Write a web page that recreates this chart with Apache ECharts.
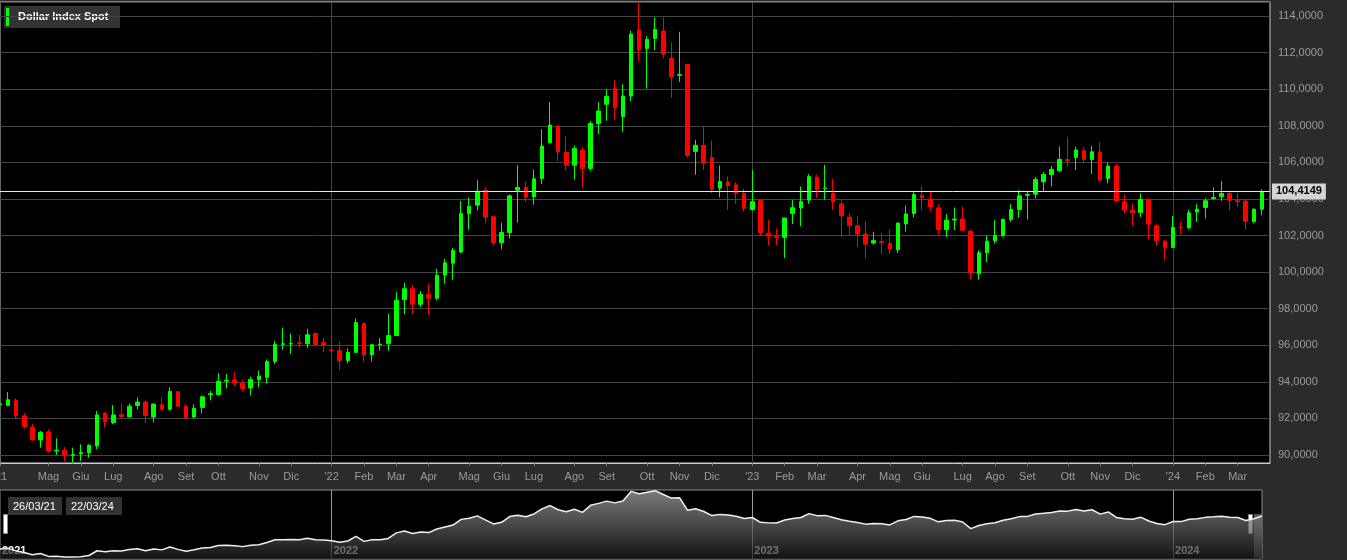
<!DOCTYPE html>
<html>
<head>
<meta charset="utf-8">
<script src="https://cdn.jsdelivr.net/npm/echarts@6/dist/echarts.min.js"></script>
<style>
  html, body { margin: 0; padding: 0; background: #2b2b2b; }
  #chart { width: 1347px; height: 560px; }
</style>
</head>
<body>
<div id="chart"></div>
<script>
// weekly candles, first week 26/03/21, last week 22/03/24
const startDate = new Date(2021, 2, 26);
const monthNames = ['Gen', 'Feb', 'Mar', 'Apr', 'Mag', 'Giu', 'Lug', 'Ago', 'Set', 'Ott', 'Nov', 'Dic'];

const opens = [92.75, 92.71, 92.98, 92.14, 91.52, 90.82, 91.26, 90.22, 90.25, 89.98, 90.07, 90.12, 90.49, 92.29, 91.77, 92.20, 92.08, 92.71, 92.89, 92.08,
  92.74, 92.50, 93.46, 92.65, 92.08, 92.60, 93.30, 93.30, 94.04, 94.10, 93.92, 93.66, 94.12, 94.25, 95.11, 96.05, 96.07, 96.13, 96.08, 96.64,
  96.15, 95.74, 95.70, 95.16, 95.61, 97.18, 95.48, 96.03, 96.10, 96.53, 98.50, 99.09, 98.24, 98.78, 98.57, 99.84, 100.49, 101.10, 103.20, 103.66,
  104.48, 103.03, 101.60, 102.16, 104.48, 104.64, 104.11, 105.12, 107.07, 107.99, 106.54, 105.85, 106.67, 105.67, 108.13, 109.18, 110.05, 108.50, 109.63, 113.25,
  112.23, 112.78, 113.18, 111.68, 110.76, 111.35, 106.60, 106.93, 106.27, 104.59, 104.93, 104.77, 104.31, 103.42, 103.91, 102.13, 101.95, 101.90, 103.21, 103.51,
  103.94, 105.19, 104.57, 104.31, 103.73, 103.00, 102.54, 102.08, 101.59, 101.67, 101.57, 101.22, 102.63, 103.20, 104.20, 103.99, 103.51, 102.33, 102.85, 102.90,
  102.23, 99.91, 101.06, 101.71, 102.01, 102.88, 103.42, 104.20, 104.26, 104.94, 105.34, 105.54, 106.15, 106.27, 106.64, 106.16, 106.57, 105.12, 105.80, 103.84,
  103.38, 103.26, 103.99, 102.53, 101.69, 101.34, 102.45, 102.43, 103.29, 103.53, 104.02, 104.12, 104.30, 103.90, 103.88, 102.75, 103.44];
const closes = [92.80, 93.02, 92.14, 91.55, 90.82, 91.24, 90.22, 90.26, 90.00, 90.02, 90.13, 90.53, 92.19, 91.83, 92.19, 92.10, 92.67, 92.89, 92.16, 92.78,
  92.50, 93.48, 92.67, 92.03, 92.56, 93.18, 93.35, 94.03, 94.08, 93.93, 93.64, 94.12, 94.30, 95.11, 96.04, 96.08, 96.10, 96.09, 96.57, 96.02,
  95.99, 95.70, 95.16, 95.61, 97.24, 95.48, 96.03, 96.06, 96.53, 98.46, 99.09, 98.24, 98.78, 98.57, 99.82, 100.51, 101.19, 103.20, 103.60, 104.42,
  103.00, 101.60, 102.16, 104.17, 104.63, 104.11, 105.10, 106.89, 108.04, 106.58, 105.85, 106.76, 105.67, 108.13, 108.81, 109.60, 108.99, 109.63, 113.01, 112.17,
  112.72, 113.27, 111.92, 110.67, 110.80, 106.38, 106.93, 105.96, 104.53, 104.95, 104.73, 104.31, 103.49, 103.85, 102.17, 101.97, 101.90, 102.96, 103.52, 103.85,
  105.22, 104.51, 104.60, 103.85, 103.09, 102.54, 102.08, 101.53, 101.72, 101.63, 101.26, 102.68, 103.18, 104.24, 104.06, 103.57, 102.33, 102.84, 102.90, 102.29,
  99.95, 101.06, 101.69, 102.00, 102.88, 103.42, 104.17, 104.24, 105.07, 105.34, 105.62, 106.16, 106.09, 106.68, 106.16, 106.58, 105.03, 105.80, 103.88, 103.39,
  103.24, 103.97, 102.62, 101.72, 101.34, 102.44, 102.41, 103.24, 103.44, 103.90, 104.08, 104.30, 103.93, 103.86, 102.78, 103.44, 104.41];
const lows = [92.70, 92.67, 91.96, 91.44, 90.80, 90.40, 90.12, 90.00, 89.67, 89.50, 89.67, 89.85, 90.31, 91.50, 91.68, 91.99, 92.05, 92.50, 91.74, 91.77,
  92.40, 92.40, 92.60, 91.97, 92.00, 92.27, 92.98, 93.24, 93.64, 93.76, 93.48, 93.26, 93.72, 93.90, 94.98, 95.75, 95.52, 95.84, 95.84, 95.93,
  95.60, 95.52, 94.65, 95.01, 95.60, 95.12, 95.12, 95.70, 95.70, 96.50, 97.70, 97.70, 98.10, 97.66, 98.45, 99.36, 99.56, 101.04, 102.32, 103.38,
  102.65, 101.43, 101.24, 101.84, 102.70, 103.84, 103.69, 104.81, 107.07, 106.08, 105.54, 105.06, 104.60, 105.54, 107.55, 108.28, 108.35, 107.68, 109.34, 111.55,
  110.03, 112.14, 111.68, 109.54, 110.40, 106.25, 105.32, 105.59, 104.31, 104.09, 103.40, 103.73, 103.30, 103.36, 101.99, 101.44, 101.48, 100.76, 102.63, 102.50,
  103.73, 104.05, 103.96, 103.40, 101.90, 101.99, 101.35, 100.76, 101.50, 100.98, 100.98, 101.04, 102.21, 102.98, 103.39, 103.33, 102.00, 101.92, 102.29, 102.23,
  99.58, 99.58, 100.55, 101.56, 101.92, 102.75, 102.98, 102.88, 104.03, 104.39, 104.67, 105.49, 105.76, 105.58, 105.95, 105.36, 104.94, 104.85, 103.88, 103.20,
  102.51, 103.02, 101.78, 101.47, 100.64, 101.34, 102.07, 102.33, 102.75, 102.93, 103.97, 103.90, 103.38, 103.57, 102.33, 102.66, 103.10];
const highs = [92.85, 93.44, 93.10, 92.29, 91.72, 91.31, 91.40, 90.91, 90.44, 90.40, 90.58, 90.58, 92.41, 92.32, 92.73, 92.80, 92.82, 93.15, 92.96, 92.82,
  93.18, 93.70, 93.51, 92.78, 92.78, 93.24, 93.50, 94.48, 94.43, 94.53, 94.12, 94.28, 94.61, 95.22, 96.24, 96.96, 96.63, 96.57, 96.90, 96.71,
  96.41, 96.47, 96.22, 95.83, 97.46, 97.27, 96.07, 96.40, 97.71, 98.90, 99.41, 99.30, 98.96, 99.36, 100.18, 100.73, 101.33, 103.89, 104.08, 105.03,
  104.63, 103.03, 102.70, 104.24, 105.85, 104.95, 105.61, 107.81, 109.29, 107.99, 107.44, 106.93, 106.82, 108.26, 109.29, 110.02, 110.50, 110.27, 113.20, 114.73,
  112.90, 113.93, 113.93, 112.56, 113.14, 111.35, 107.24, 108.00, 107.20, 105.83, 105.22, 104.91, 104.55, 105.59, 103.94, 102.85, 102.39, 102.96, 103.94, 104.68,
  105.37, 105.33, 105.86, 105.10, 103.94, 103.23, 103.03, 102.77, 102.21, 102.13, 102.35, 102.72, 103.63, 104.39, 104.70, 104.39, 103.71, 103.17, 103.53, 103.57,
  102.33, 101.19, 102.01, 102.84, 102.93, 103.71, 104.48, 104.39, 105.21, 105.47, 105.80, 106.86, 107.37, 106.86, 106.82, 106.90, 107.10, 106.00, 105.91, 104.24,
  103.75, 104.30, 103.99, 102.65, 101.78, 103.07, 102.75, 103.42, 103.71, 104.03, 104.63, 104.98, 104.39, 104.30, 103.99, 103.48, 104.52];
const lastPrice = 104.4149;

// one extra empty slot on the right, as in the reference
const weeks = [];
for (let i = 0; i <= opens.length; i++) {
  weeks.push(new Date(startDate.getTime() + i * 7 * 86400000));
}
const categories = weeks.map(d => d.toISOString().slice(0, 10));

function isMonthStart(i) {
  if (i >= opens.length) return false;
  if (i === 0) return true;
  return weeks[i].getDate() <= 7 && i > 1;
}
function isYearStart(i) {
  return isMonthStart(i) && i > 0 && weeks[i].getMonth() === 0;
}
function monthLabel(i) {
  const d = weeks[i];
  if (i === 0 || d.getMonth() === 0) return "'" + String(d.getFullYear()).slice(2);
  return monthNames[d.getMonth()];
}

const candleData = opens.map((o, i) => [o, closes[i], lows[i], highs[i]]);
const font = 'Liberation Sans';

const chart = echarts.init(document.getElementById('chart'));
chart.setOption({
  animation: false,
  backgroundColor: '#2b2b2b',
  textStyle: { fontFamily: font },
  grid: [
    { left: 0, right: 77, top: 2, bottom: 97, outerBoundsMode: 'none', containLabel: false,
      show: true, backgroundColor: '#000', borderColor: '#c8ccd8', borderWidth: 1 },
    { left: 0, right: 85, top: 490, bottom: 1, outerBoundsMode: 'none', containLabel: false,
      show: true, backgroundColor: '#000', borderColor: '#8a8a8a', borderWidth: 1 }
  ],
  xAxis: [
    {
      type: 'category', gridIndex: 0, data: categories, boundaryGap: false,
      axisLine: { lineStyle: { color: '#c8ccd8' } },
      axisTick: { interval: (i) => isMonthStart(i), length: 3, lineStyle: { color: '#777' } },
      axisLabel: { interval: (i) => isMonthStart(i), formatter: (v, i) => monthLabel(i), color: '#9a9a9a', fontSize: 11, margin: 8 },
      splitLine: { show: true, interval: (i) => isYearStart(i), lineStyle: { color: '#444' } }
    },
    {
      type: 'category', gridIndex: 1, data: categories.slice(0, opens.length), boundaryGap: false,
      axisLine: { show: false }, axisTick: { show: false },
      axisLabel: {
        inside: true, interval: (i) => i === 0 || isYearStart(i),
        formatter: (v, i) => String(weeks[i].getFullYear()),
        color: '#fff', fontSize: 11, fontWeight: 'bold', align: 'left', padding: [0, 0, 0, 2], margin: 3
      },
      splitLine: { show: true, interval: (i) => isYearStart(i), lineStyle: { color: '#999' } }
    }
  ],
  yAxis: [
    {
      type: 'value', gridIndex: 0, position: 'right', min: 89.56, max: 114.77, splitNumber: 13,
      axisLine: { show: false }, axisTick: { show: false },
      axisLabel: {
        color: '#9a9a9a', fontSize: 11, margin: 8, showMinLabel: false, showMaxLabel: false,
        formatter: (v) => v.toFixed(4).replace('.', ',')
      },
      splitLine: { lineStyle: { color: '#444' } }
    },
    { type: 'value', gridIndex: 1, min: 89.3, max: 113.5, show: false }
  ],
  series: [
    {
      type: 'candlestick', xAxisIndex: 0, yAxisIndex: 0, data: candleData, barMaxWidth: 6,
      itemStyle: { color: '#00ff00', color0: '#ff0000', borderColor: '#00ff00', borderColor0: '#ff0000', borderWidth: 1 },
      markLine: {
        silent: true, symbol: 'none', animation: false,
        lineStyle: { color: '#e8e8e8', type: 'solid', width: 1 },
        label: {
          position: 'end', formatter: lastPrice.toFixed(4).replace('.', ','),
          backgroundColor: '#d4d4d4', color: '#000', fontSize: 11, fontWeight: 'bold',
          padding: [3, 4, 2, 4], distance: 2
        },
        data: [{ yAxis: lastPrice }]
      }
    },
    {
      type: 'line', xAxisIndex: 1, yAxisIndex: 1, data: closes, symbol: 'none',
      lineStyle: { color: '#f0f0f0', width: 1.5 },
      areaStyle: {
        color: { type: 'linear', x: 0, y: 0, x2: 0, y2: 1,
          colorStops: [{ offset: 0, color: '#b0b0b0' }, { offset: 1, color: '#1a1a1a' }] }
      }
    }
  ],
  graphic: [
    { type: 'rect', left: 4, top: 6, shape: { width: 116, height: 22 }, style: { fill: '#333' } },
    { type: 'rect', left: 6, top: 8, shape: { width: 3, height: 18 }, style: { fill: '#00ff00' } },
    { type: 'text', left: 18, top: 11, style: { text: 'Dollar Index Spot', fill: '#fff', font: 'bold 11px ' + font } },
    { type: 'rect', left: 8, top: 497, shape: { width: 54, height: 18 }, style: { fill: '#333' } },
    { type: 'text', left: 13, top: 501, style: { text: '26/03/21', fill: '#fff', font: '11px ' + font } },
    { type: 'rect', left: 66, top: 497, shape: { width: 56, height: 18 }, style: { fill: '#333' } },
    { type: 'text', left: 71, top: 501, style: { text: '22/03/24', fill: '#fff', font: '11px ' + font } },
    { type: 'rect', left: 3, top: 514, shape: { width: 4, height: 19 }, style: { fill: '#fff', stroke: '#888', lineWidth: 1 } },
    { type: 'rect', left: 1248, top: 514, shape: { width: 4, height: 19 }, style: { fill: '#fff', stroke: '#888', lineWidth: 1 } },
    { type: 'rect', left: 1254, top: 514, shape: { width: 8, height: 46 }, style: { fill: '#555' } }
  ]
});
</script>
</body>
</html>
